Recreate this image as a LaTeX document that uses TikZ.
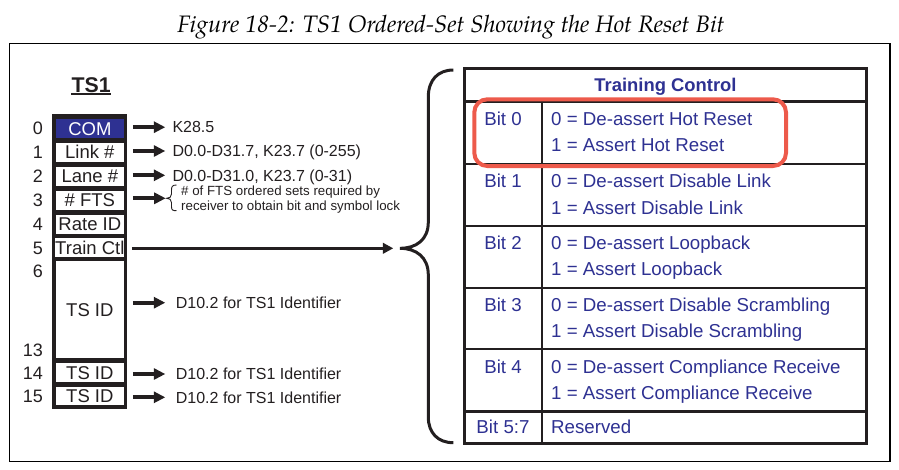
\documentclass[tikz,border=0pt]{standalone}
\usepackage{fontspec}
\setmainfont{Liberation Sans}
\newfontfamily\titlefont{texgyrepagella-italic.otf}
\usetikzlibrary{arrows.meta}
\definecolor{tblue}{RGB}{46,49,146}
\definecolor{tred}{RGB}{237,90,75}
\definecolor{ink}{RGB}{35,31,32}
\begin{document}
\begin{tikzpicture}[x=1pt,y=-1pt,
  cell/.style={fill=white, minimum width=67.7, inner sep=0, text=ink,
    font=\fontsize{18.5}{18.5}\selectfont, text height=13.2pt, text depth=0pt},
  num/.style={anchor=east, inner sep=0, text=ink,
    font=\fontsize{18}{18}\selectfont, text height=12.9pt, text depth=0pt},
  lab/.style={anchor=west, inner sep=0, text=ink,
    font=\fontsize{16}{16}\selectfont, text height=11.5pt, text depth=0pt},
  small/.style={anchor=west, inner sep=0, text=ink,
    font=\fontsize{13.3}{13.3}\selectfont, text height=9.5pt, text depth=0pt},
  tb/.style={inner sep=0, text=tblue,
    font=\fontsize{18.7}{18.7}\selectfont, text height=13.4pt, text depth=0pt},
  fat/.style={draw=ink, line width=3.8, -{Triangle[length=11.5pt,width=11pt]},
    shorten <=5.4pt, shorten >=7pt},
  thickline/.style={draw=ink, line width=3},
  thinline/.style={draw=ink, line width=2}
]
\useasboundingbox (0,0) rectangle (899,469);
% title
\node[font=\titlefont\fontsize{23.8}{23.8}\selectfont, inner sep=0] (title) at (451,27.5)
  {Figure 18-2: TS1 Ordered-Set Showing the Hot Reset Bit};
% frame
\draw[line width=1.3] (9.3,43.3) rectangle (890,461.7);
% TS1 heading
\node[font=\bfseries\fontsize{21.3}{21.3}\selectfont, inner sep=0, text=ink,
  text height=15.3pt, text depth=0pt] (ts1) at (91.2,84.5) {TS1};
\draw[ink, line width=2.2] ([yshift=-1.6pt]ts1.south west) -- ([yshift=-1.6pt]ts1.south east);
% column
\node[fill=ink, minimum width=75, minimum height=295, inner sep=0] (col) at (89.8,261.8) {};
\node[cell, fill=tblue, text=white, minimum height=19] (c0) at (89.85,128.8) {COM};
\node[cell, minimum height=19] (c1) at (89.85,152) {Link \#};
\node[cell, minimum height=19] (c2) at (89.85,176) {Lane \#};
\node[cell, minimum height=19] (c3) at (89.85,200) {\# FTS};
\node[cell, minimum height=19] (c4) at (89.85,224) {Rate ID};
\node[cell, minimum height=19] (c5) at (89.85,247.5) {Train Ctl};
\node[cell, minimum height=97.8] (c6) at (89.85,309.4) {TS ID};
\node[cell, minimum height=19] (c14) at (89.85,372.8) {TS ID};
\node[cell, minimum height=18.6] (c15) at (89.85,396) {TS ID};
% numbers
\node[num] (n0) at (43,128.5) {0};
\node[num] (n1) at (43,152) {1};
\node[num] (n2) at (43,176) {2};
\node[num] (n3) at (43,200) {3};
\node[num] (n4) at (43,224) {4};
\node[num] (n5) at (43,247.7) {5};
\node[num] (n6) at (43,270.7) {6};
\node[num] (n13) at (43,350) {13};
\node[num] (n14) at (43,373) {14};
\node[num] (n15) at (43,396.5) {15};
% labels
\node[lab] (l0) at (172.3,127.2) {K28.5};
\node[lab] (l1) at (172.3,151) {D0.0-D31.7, K23.7 (0-255)};
\node[lab] (l2) at (172.3,175.3) {D0.0-D31.0, K23.7 (0-31)};
\node[small] (l3a) at (181,191) {\# of FTS ordered sets required by};
\node[small] (l3b) at (181,205.7) {receiver to obtain bit and symbol lock};
\node[lab] (l6) at (175.7,302.7) {D10.2 for TS1 Identifier};
\node[lab] (l14) at (175.7,374) {D10.2 for TS1 Identifier};
\node[lab] (l15) at (175.7,397.3) {D10.2 for TS1 Identifier};
% small brace
\coordinate (fb) at (166.7,198.3);
\draw[ink, line width=0.9] (176.5,185) .. controls (172.5,185) and (171.5,186.5) .. (171.5,190)
  -- (171.5,194) .. controls (171.5,197) and (169.5,198.3) .. (fb)
  .. controls (169.5,198.3) and (171.5,199.6) .. (171.5,202.6) -- (171.5,206.5)
  .. controls (171.5,210) and (172.5,210.7) .. (176.5,210.7);
% arrows
\draw[fat] (col.east |- l0.west) -- (l0.west);
\draw[fat] (col.east |- l1.west) -- (l1.west);
\draw[fat] (col.east |- l2.west) -- (l2.west);
\draw[fat, shorten >=1pt] (col.east |- fb) -- (fb);
\draw[fat, shorten >=10.4pt] (col.east |- l6.west) -- (l6.west);
\draw[fat, shorten >=10.4pt] (col.east |- l14.west) -- (l14.west);
\draw[fat, shorten >=10.4pt] (col.east |- l15.west) -- (l15.west);
% big brace
\coordinate (bt) at (400,248.3);
\draw[ink, line width=2.8, -{Triangle[length=10.5pt,width=10.5pt]}, shorten <=4.4pt, shorten >=6.7pt]
  (col.east |- bt) -- (bt);
\draw[ink, line width=3] (453.3,70) .. controls (438,70) and (428.3,80) .. (428.3,97)
  -- (428.3,222) .. controls (428.3,240) and (416,248.3) .. (bt)
  .. controls (416,248.3) and (428.3,257) .. (428.3,275)
  -- (428.3,417) .. controls (428.3,433) and (438,442.7) .. (453.3,442.7);
% table
\node[tb, font=\bfseries\fontsize{18.4}{18.4}\selectfont] (hdr) at (665.5,85) {Training Control};
\draw[thickline] (464.3,68) rectangle (866.7,443.3);
\draw[thickline] (464.3,101.7) -- (866.7,101.7);
\draw[thickline] (464.3,411) -- (866.7,411);
\foreach \ry in {164,225.7,287.7,349.3} \draw[thinline] (464.3,\ry) -- (866.7,\ry);
\draw[thinline] (542.3,101.7) -- (542.3,443.3);
\foreach \ry/\bit/\what [count=\i from 0] in {101.7/0/Hot Reset, 164/1/Disable Link,
  225.7/2/Loopback, 287.7/3/Disable Scrambling, 349.3/4/Compliance Receive}{
  \node[tb] (b\i) at (503,\ry+17) {Bit \bit};
  \node[tb, anchor=west] (d\i) at (551,\ry+17) {0 = De-assert \what};
  \node[tb, anchor=west] (a\i) at (551,\ry+43.5) {1 = Assert \what};
}
\node[tb] (b5) at (503,427) {Bit 5:7};
\node[tb, anchor=west] (r5) at (551,427) {Reserved};
% highlight
\draw[tred, line width=4, rounded corners=13] (474.3,99.3) rectangle (786,166);
\end{tikzpicture}
\end{document}
